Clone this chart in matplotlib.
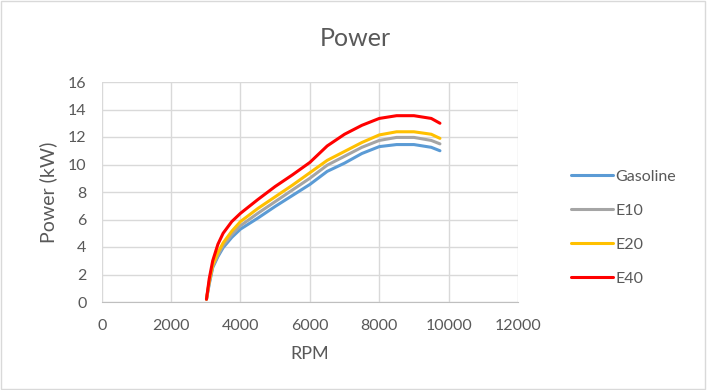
import matplotlib
matplotlib.use("Agg")
import matplotlib.pyplot as plt
from matplotlib.patches import Rectangle

rpm = [3020, 3100, 3200, 3350, 3500, 3750, 4000, 4500, 5000, 5500, 6000,
       6500, 7000, 7500, 8000, 8500, 9000, 9500, 9750]
gasoline = [0.2, 1.3, 2.5, 3.3, 3.95, 4.7, 5.3, 6.1, 6.95, 7.75, 8.55,
            9.5, 10.1, 10.8, 11.3, 11.45, 11.45, 11.25, 11.0]
e10 = [0.2, 1.4, 2.6, 3.4, 4.1, 4.9, 5.55, 6.45, 7.3, 8.15, 9.0,
       9.95, 10.6, 11.25, 11.75, 11.97, 11.97, 11.75, 11.5]
e20 = [0.2, 1.5, 2.7, 3.6, 4.3, 5.15, 5.85, 6.8, 7.65, 8.5, 9.4,
       10.3, 10.95, 11.6, 12.15, 12.38, 12.38, 12.2, 11.9]
e40 = [0.2, 1.7, 3.0, 4.2, 5.0, 5.85, 6.45, 7.45, 8.4, 9.25, 10.15,
       11.35, 12.2, 12.85, 13.35, 13.55, 13.55, 13.35, 13.0]
series_names = ["Gasoline", "E10", "E20", "E40"]
series_colors = ["#5B9BD5", "#A5A5A5", "#FFC000", "#FF0000"]
xticks = [0, 2000, 4000, 6000, 8000, 10000, 12000]
yticks = [0, 2, 4, 6, 8, 10, 12, 14, 16]

plt.rcParams['font.family'] = ['Lato', 'DejaVu Sans']
txt = "#595959"

fig = plt.figure(figsize=(7.08, 3.9), dpi=100)
ax = fig.add_axes([101.7 / 708, 88 / 390, (518 - 101.7) / 708, 220 / 390])

for vals, name, col in zip([gasoline, e10, e20, e40], series_names, series_colors):
    ax.plot(rpm, vals, color=col, lw=2.2, label=name, solid_capstyle='round')

ax.set_xlim(0, 12000)
ax.set_ylim(0, 16)
ax.set_xticks(xticks)
ax.set_yticks(yticks)
ax.grid(True, color="#d9d9d9", lw=1)
ax.set_axisbelow(True)
for s in ["top", "right", "left"]:
    ax.spines[s].set_visible(False)
ax.spines["bottom"].set_color("#bfbfbf")
ax.tick_params(length=0, labelsize=11.5, colors=txt)
ax.tick_params(axis="x", pad=12)
ax.tick_params(axis="y", pad=11)
ax.set_xlabel("RPM", fontsize=13, color=txt)
ax.set_ylabel("Power (kW)", fontsize=14, color=txt)
ax.xaxis.set_label_coords(0.5, -52 / 220)
ax.xaxis.label.set_va("center")
ax.yaxis.set_label_coords((48 - 101.7) / 416.3, 0.5)
ax.yaxis.label.set_va("center")

fig.text(355.5 / 708, 1 - 39 / 390, "Power", ha="center", va="center",
         fontsize=18, color=txt)

leg = fig.legend(loc="upper left", bbox_to_anchor=(557 / 708, 1 - 155 / 390),
                 frameon=False, fontsize=11.5, handlelength=2.6, handletextpad=0.15,
                 labelspacing=1.25, labelcolor=txt)

fig.patches.append(Rectangle((0.002, 0.003), 0.994, 0.994, transform=fig.transFigure,
                             fill=False, edgecolor="#d9d9d9", lw=1))

fig.savefig("out.png", dpi=100)
